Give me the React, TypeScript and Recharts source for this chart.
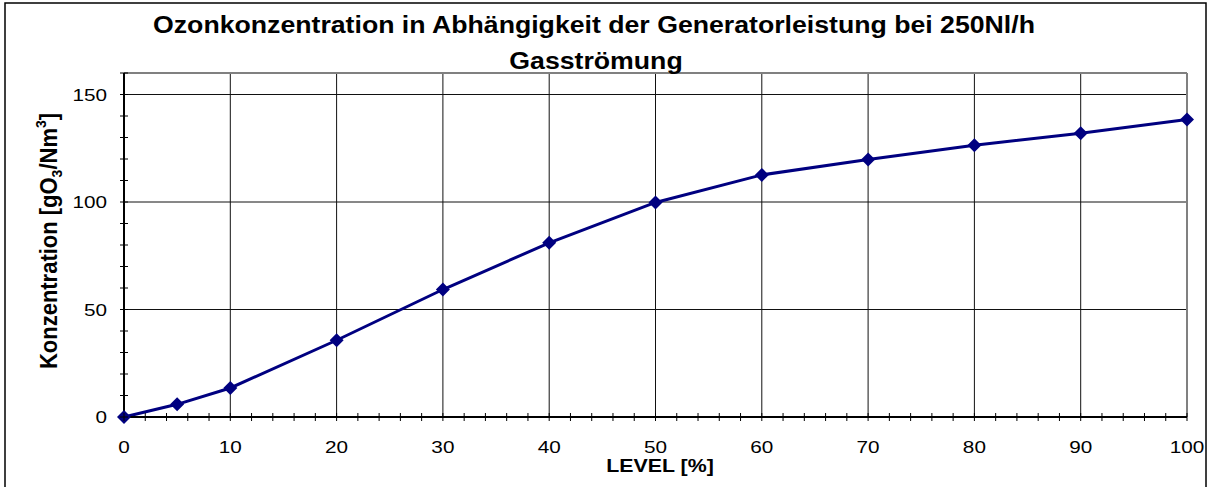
import { LineChart, Line, XAxis, YAxis, ReferenceLine } from "recharts";

const levels = [0, 5, 10, 20, 30, 40, 50, 60, 70, 80, 90, 100];
const konzentration = [0, 5.9, 13.5, 35.7, 59.3, 81, 99.8, 112.6, 119.8, 126.4, 132, 138.4];

const xTicks = [0, 2, 4, 6, 8, 10, 12, 14, 16, 18, 20, 22, 24, 26, 28, 30, 32, 34, 36, 38, 40, 42, 44, 46, 48, 50, 52, 54, 56, 58, 60, 62, 64, 66, 68, 70, 72, 74, 76, 78, 80, 82, 84, 86, 88, 90, 92, 94, 96, 98, 100];
const xGrid = [10, 20, 30, 40, 50, 60, 70, 80, 90];
const yTicks = [0, 10, 20, 30, 40, 50, 60, 70, 80, 90, 100, 110, 120, 130, 140, 150, 160];
const yGrid = [50, 100, 150];

const data = levels.map((level, i) => ({ level, value: konzentration[i] }));

const FONT = "'Liberation Sans', Arial, sans-serif";
const SX = 1.22;

function XTick({ x, y, payload }: any) {
  const v = payload.value;
  return (
    <g>
      <line x1={x} y1={y - 4} x2={x} y2={y + 4} stroke="#000" strokeWidth={1} />
      {v % 10 === 0 && (
        <text
          transform={`translate(${x},${y + 36}) scale(${SX},1)`}
          textAnchor="middle"
          fontFamily={FONT}
          fontSize={17}
          fill="#000"
        >
          {v}
        </text>
      )}
    </g>
  );
}

function YTick({ x, y, payload }: any) {
  const v = payload.value;
  return (
    <g>
      <line x1={x - 4} y1={y} x2={x + 4} y2={y} stroke="#000" strokeWidth={1} />
      {v % 50 === 0 && (
        <text
          transform={`translate(${x - 17},${y + 6}) scale(${SX},1)`}
          textAnchor="end"
          fontFamily={FONT}
          fontSize={17}
          fill="#000"
        >
          {v}
        </text>
      )}
    </g>
  );
}

function Diamond({ cx, cy }: any) {
  const r = 7;
  return <polygon points={`${cx},${cy - r} ${cx + r},${cy} ${cx},${cy + r} ${cx - r},${cy}`} fill="#000080" />;
}

export default function App() {
  return (
    <div style={{ position: "absolute", left: 0, top: 0, width: 1209, height: 487, background: "#fff" }}>
      <LineChart width={1209} height={487} data={data} margin={{ top: 73, right: 22, bottom: 0, left: 0 }}>
        {xGrid.map((v) => (
          <ReferenceLine key={"x" + v} x={v} stroke="#111" strokeWidth={1} />
        ))}
        {yGrid.map((v) => (
          <ReferenceLine key={"y" + v} y={v} stroke="#111" strokeWidth={1} />
        ))}
        <ReferenceLine y={160} stroke="#808080" strokeWidth={2} />
        <ReferenceLine x={100} stroke="#808080" strokeWidth={2} />
        <XAxis
          dataKey="level"
          type="number"
          domain={[0, 100]}
          ticks={xTicks}
          interval={0}
          height={70}
          tickLine={false}
          tickSize={0}
          tickMargin={0}
          axisLine={{ stroke: "#000", strokeWidth: 2 }}
          tick={<XTick />}
        />
        <YAxis
          type="number"
          domain={[0, 160]}
          ticks={yTicks}
          interval={0}
          width={124}
          tickLine={false}
          tickSize={0}
          tickMargin={0}
          axisLine={{ stroke: "#000", strokeWidth: 2 }}
          tick={<YTick />}
        />
        <Line
          dataKey="value"
          stroke="#000080"
          strokeWidth={3}
          dot={<Diamond />}
          activeDot={false}
          isAnimationActive={false}
        />
      </LineChart>
      <svg
        width={1209}
        height={487}
        style={{ position: "absolute", left: 0, top: 0, pointerEvents: "none" }}
      >
        <rect x={5} y={3} width={1201} height={500} fill="none" stroke="#000" strokeWidth={1.5} />
        <g fontFamily={FONT} fontWeight="bold" fill="#000">
          <text transform={`translate(594,33) scale(1.16,1)`} textAnchor="middle" fontSize={23}>
            Ozonkonzentration in Abhängigkeit der Generatorleistung bei 250Nl/h
          </text>
          <text transform={`translate(596,69) scale(1.16,1)`} textAnchor="middle" fontSize={23}>
            Gasströmung
          </text>
          <text transform={`translate(660,472) scale(${SX},1)`} textAnchor="middle" fontSize={17.5}>
            LEVEL [%]
          </text>
          <text transform={`translate(57,241) scale(1.08,1) rotate(-90)`} textAnchor="middle" fontSize={22}>
            Konzentration [gO
            <tspan fontSize={14} dy={5}>3</tspan>
            <tspan dy={-5}>/Nm</tspan>
            <tspan fontSize={14} dy={-10}>3</tspan>
            <tspan dy={10}>]</tspan>
          </text>
        </g>
      </svg>
    </div>
  );
}
